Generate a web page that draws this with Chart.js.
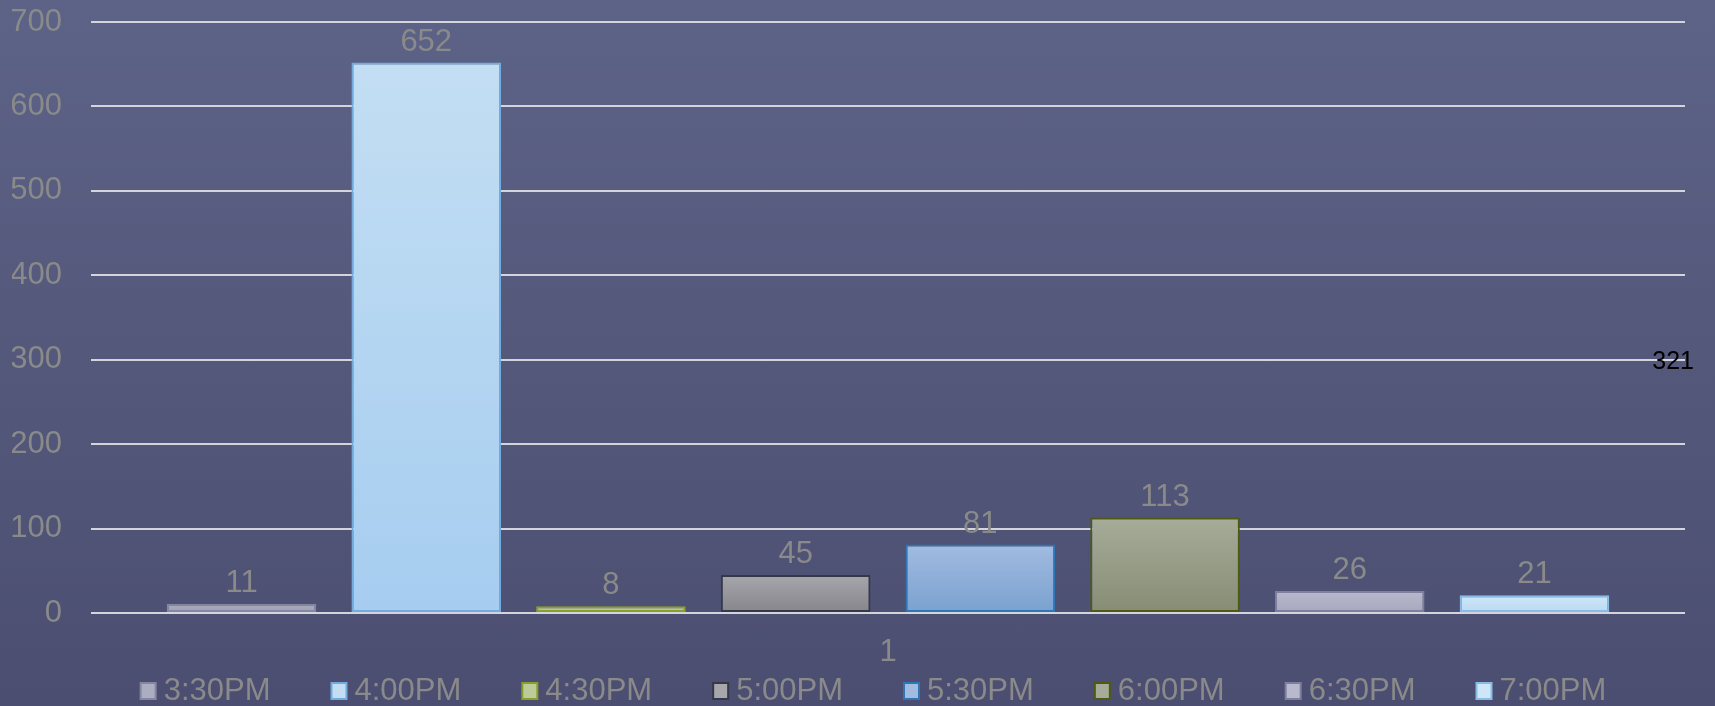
<!DOCTYPE html>
<html>
<head>
<meta charset="utf-8">
<script src="https://cdn.jsdelivr.net/npm/chart.js@4/dist/chart.umd.min.js"></script>
<style>
  html, body { margin: 0; padding: 0; }
  body { width: 1715px; height: 706px; overflow: hidden; }
  #wrap {
    width: 1715px; height: 706px; position: relative;
    background: linear-gradient(to bottom, #5d6387 0%, #4b4e70 100%);
  }
</style>
</head>
<body>
<div id="wrap"><canvas id="myChart"></canvas></div>
<script>
// data
const categories = ['1'];
const seriesNames = ['3:30PM', '4:00PM', '4:30PM', '5:00PM', '5:30PM', '6:00PM', '6:30PM', '7:00PM'];
const seriesValues = [11, 652, 8, 45, 81, 113, 26, 21];
const yTicks = [0, 100, 200, 300, 400, 500, 600, 700];
const sideNote = '321';

// bar colours: top of gradient, bottom of gradient, border
const fillTop = ['#abadc0', '#c3def3', '#bccb98', '#a6a6ab', '#a2bbe1', '#a6ac99', '#b9b9cd', '#cfe6f7'];
const fillBottom = ['#9c9eb3', '#a6cdf0', '#b0c389', '#85858b', '#7aa1cf', '#878c74', '#a6a6bd', '#bad9f2'];
const borderCols = ['#8587a2', '#72acdf', '#8a9e2a', '#353848', '#2e76b5', '#4e5a12', '#7e7f9f', '#88bce6'];

const textGray = '#8a8a8a';
const font = "'Liberation Sans', Arial, sans-serif";
const fontSize = 31;

function barFill(i) {
    return function(context) {
        const chart = context.chart;
        if (!chart.chartArea || context.type !== 'data' || !chart.scales.y) {
            return fillBottom[i];
        }
        const y = chart.scales.y;
        const yTop = y.getPixelForValue(context.parsed.y);
        const yBase = y.getPixelForValue(0);
        if (!isFinite(yTop) || !isFinite(yBase) || yBase - yTop < 1) return fillBottom[i];
        const g = chart.ctx.createLinearGradient(0, yTop, 0, yBase);
        g.addColorStop(0, fillTop[i]);
        g.addColorStop(1, fillBottom[i]);
        return g;
    };
}

const datasets = seriesNames.map((name, i) => ({
    label: name,
    data: [seriesValues[i]],
    backgroundColor: barFill(i),
    borderColor: borderCols[i],
    borderWidth: 2,
    borderSkipped: false
}));

// value labels above bars
const valueLabels = {
    id: 'valueLabels',
    afterDatasetsDraw(chart) {
        const ctx = chart.ctx;
        ctx.save();
        ctx.font = fontSize + 'px ' + font;
        ctx.fillStyle = textGray;
        ctx.textAlign = 'center';
        ctx.textBaseline = 'alphabetic';
        chart.data.datasets.forEach((ds, i) => {
            const meta = chart.getDatasetMeta(i);
            meta.data.forEach((bar, j) => {
                ctx.fillText(String(ds.data[j]), bar.x, bar.y - 12);
            });
        });
        ctx.restore();
    }
};

// legend drawn by hand so the spacing matches
const bottomLegend = {
    id: 'bottomLegend',
    afterDraw(chart) {
        const ctx = chart.ctx;
        ctx.save();
        ctx.font = fontSize + 'px ' + font;
        const boxW = 15, boxH = 16, gap = 8, spacing = 61;
        const widths = seriesNames.map(n => boxW + gap + ctx.measureText(n).width);
        const total = widths.reduce((a, b) => a + b, 0) + spacing * (widths.length - 1);
        let x = chart.width / 2 + 16 - total / 2;
        const baseY = chart.height - 6;
        seriesNames.forEach((name, i) => {
            const boxTop = baseY - 17;
            ctx.fillStyle = fillTop[i];
            ctx.fillRect(x, boxTop, boxW, boxH);
            ctx.strokeStyle = borderCols[i];
            ctx.lineWidth = 2;
            ctx.strokeRect(x, boxTop, boxW, boxH);
            ctx.fillStyle = textGray;
            ctx.textAlign = 'left';
            ctx.textBaseline = 'alphabetic';
            ctx.fillText(name, x + boxW + gap, baseY);
            x += widths[i] + spacing;
        });
        ctx.restore();
    }
};

// stray black label on the right edge
const sideLabel = {
    id: 'sideLabel',
    afterDraw(chart) {
        const ctx = chart.ctx;
        const y = chart.scales.y.getPixelForValue(300);
        ctx.save();
        ctx.font = '25px ' + font;
        ctx.fillStyle = '#000000';
        ctx.textAlign = 'right';
        ctx.textBaseline = 'middle';
        ctx.fillText(sideNote, chart.width - 21, y + 2);
        ctx.restore();
    }
};

const ctx = document.getElementById('myChart');
new Chart(ctx, {
    type: 'bar',
    data: {
        labels: categories,
        datasets: datasets
    },
    options: {
        responsive: true,
        maintainAspectRatio: false,
        animation: false,
        categoryPercentage: 0.927,
        barPercentage: 0.81,
        layout: {
            padding: { left: 12, right: 30, top: 0, bottom: 38 }
        },
        plugins: {
            legend: { display: false },
            tooltip: { enabled: false }
        },
        scales: {
            x: {
                grid: { display: false },
                border: { display: false },
                afterFit: axis => {
                    axis.height = 55;
                    axis.paddingLeft = 0;
                    axis.paddingRight = 0;
                },
                ticks: {
                    color: textGray,
                    padding: 13,
                    font: { size: fontSize, family: font }
                }
            },
            y: {
                min: 0,
                max: 700,
                afterBuildTicks: axis => {
                    axis.ticks = yTicks.map(v => ({ value: v }));
                },
                afterFit: axis => {
                    axis.width = 79;
                    axis.paddingTop = 22;
                    axis.paddingBottom = 0;
                },
                grid: {
                    color: '#d4d4dc',
                    lineWidth: 2,
                    drawTicks: false
                },
                border: { display: false },
                ticks: {
                    color: textGray,
                    padding: 29,
                    font: { size: fontSize, family: font }
                }
            }
        }
    },
    plugins: [valueLabels, bottomLegend, sideLabel]
});
</script>
</body>
</html>
